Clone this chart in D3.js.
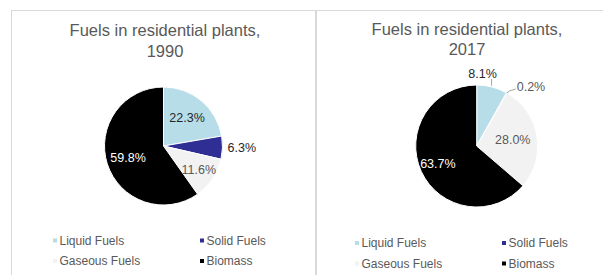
<!DOCTYPE html>
<html lang="en">
<head>
<meta charset="UTF-8">
<title>Fuels in residential plants</title>
<style>
  html, body { margin: 0; padding: 0; background: #fff; }
  svg { display: block; font-family: "Liberation Sans", Arial, sans-serif; }
</style>
</head>
<body>
<svg id="chart" width="603" height="275"></svg>
<script src="https://cdnjs.cloudflare.com/ajax/libs/d3/7.8.5/d3.min.js"></script>
<script>
// data
const categories = ['Liquid Fuels', 'Solid Fuels', 'Gaseous Fuels', 'Biomass'];
const years = ['1990', '2017'];
const shares1990 = [22.3, 6.3, 11.6, 59.8];
const shares2017 = [8.1, 0.2, 28.0, 63.7];

const colors = ['#b7dee8', '#2e2e94', '#f2f2f2', '#000000'];

var svg = d3.select('#chart');

// one panel per year
const panels = [
    { x0: 11.5, x1: 315.5, cx: 163.5, cy: 146, r: 59, titleX: 165, titleY: 36, legendX: 53, legendY: 240.5,
      values: shares1990, year: years[0],
      // label placement: radius factor (x r), text colour, kind
      labels: [
        { k: 0.62, color: '#262626' },
        { k: 1.07, color: '#262626', outside: true },
        { k: 0.72, color: '#595959' },
        { k: 0.63, color: '#ffffff' }
      ] },
    { x0: 316.5, x1: 620, cx: 476.7, cy: 146, r: 61, titleX: 467, titleY: 34.5, legendX: 355, legendY: 243,
      values: shares2017, year: years[1],
      labels: [
        { k: 1.22, color: '#262626', leader: 'up' },
        { k: 1.0, color: '#595959', leader: 'right' },
        { k: 0.6, color: '#595959' },
        { k: 0.7, color: '#ffffff' }
      ] }
];

panels.forEach(function (p) {
    // frame
    svg.append('rect')
        .attr('x', p.x0).attr('y', 10.5)
        .attr('width', p.x1 - p.x0).attr('height', 300)
        .attr('fill', 'none')
        .attr('stroke', '#d9d9d9')
        .attr('stroke-width', 1);

    // title
    var title = svg.append('text')
        .attr('text-anchor', 'middle')
        .attr('font-size', 16.5)
        .attr('fill', '#595959');
    title.append('tspan').attr('x', p.titleX).attr('y', p.titleY).text('Fuels in residential plants,');
    title.append('tspan').attr('x', p.titleX).attr('y', p.titleY + 20.5).text(p.year);

    var pie = d3.pie().sort(null).value(function (d) { return d; });
    var arcs = pie(p.values);
    var arc = d3.arc().innerRadius(0).outerRadius(p.r);

    var g = svg.append('g').attr('transform', 'translate(' + p.cx + ',' + p.cy + ')');

    g.selectAll('path')
        .data(arcs)
        .enter()
        .append('path')
        .attr('d', arc)
        .attr('fill', function (d, i) { return colors[i]; })
        .attr('stroke', '#fff')
        .attr('stroke-width', 1);

    var fmt = function (v) { return d3.format('.1f')(v) + '%'; };

    arcs.forEach(function (d, i) {
        var L = p.labels[i];
        var mid = (d.startAngle + d.endAngle) / 2;
        var sx = Math.sin(mid), sy = -Math.cos(mid);
        var lbl = g.append('text')
            .attr('dy', '0.35em')
            .attr('font-size', 12.5)
            .attr('fill', L.color)
            .text(fmt(d.value));

        if (L.outside) {
            lbl.attr('x', p.r * L.k * sx + 1).attr('y', p.r * L.k * sy);
        } else if (L.leader === 'up') {
            // short vertical leader from the rim up to the label
            var ex = p.r * Math.sin(d.endAngle) * 0.5;
            var ey = -Math.sqrt(p.r * p.r - ex * ex);
            var ly = p.r * L.k * sy;
            g.append('line')
                .attr('x1', ex).attr('y1', ey - 1)
                .attr('x2', ex).attr('y2', ly + 5)
                .attr('stroke', '#a6a6a6').attr('stroke-width', 1);
            lbl.attr('x', ex - 9).attr('y', ly).attr('text-anchor', 'middle');
        } else if (L.leader === 'right') {
            var px = p.r * sx, py = p.r * sy;
            g.append('polyline')
                .attr('points', [[px, py], [px + 3, py - 2], [px + 9, py - 4]].join(' '))
                .attr('fill', 'none')
                .attr('stroke', '#a6a6a6').attr('stroke-width', 1);
            lbl.attr('x', px + 10).attr('y', py - 6);
        } else {
            var c = d3.arc().innerRadius(p.r * L.k).outerRadius(p.r * L.k).centroid(d);
            lbl.attr('x', c[0]).attr('y', c[1]).attr('text-anchor', 'middle');
        }
    });

    // legend, 2 x 2
    var legend = svg.append('g')
        .attr('transform', 'translate(' + p.legendX + ',' + p.legendY + ')');
    var item = legend.selectAll('g')
        .data(categories)
        .enter()
        .append('g')
        .attr('transform', function (d, i) {
            return 'translate(' + (i % 2) * 147 + ',' + Math.floor(i / 2) * 20.5 + ')';
        });
    item.append('rect')
        .attr('x', 0).attr('y', -2)
        .attr('width', 4).attr('height', 4)
        .attr('fill', function (d, i) { return colors[i]; });
    item.append('text')
        .attr('x', 6.5)
        .attr('dy', '0.35em')
        .attr('font-size', 12)
        .attr('fill', '#595959')
        .text(function (d) { return d; });
});
</script>
</body>
</html>
